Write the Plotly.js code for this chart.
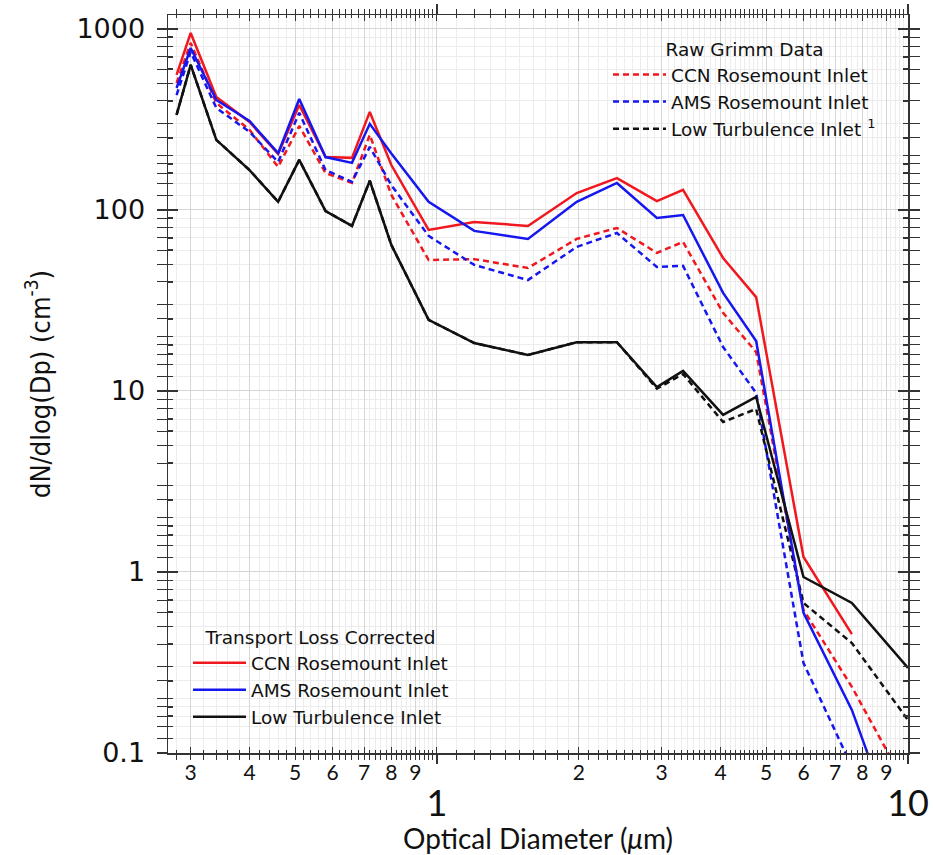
<!DOCTYPE html>
<html>
<head>
<meta charset="utf-8">
<script src="https://cdn.plot.ly/plotly-3.0.1.min.js"></script>
<style>
html,body{margin:0;padding:0;background:#fff;}
#chart{width:934px;height:855px;}
</style>
</head>
<body>
<div id="chart"></div>
<script>
// Optical diameter (um)
const diameter = [0.28, 0.30, 0.34, 0.40, 0.46, 0.51, 0.58, 0.66, 0.72, 0.80, 0.96, 1.2, 1.56, 1.98, 2.41, 2.93, 3.33, 4.05, 4.76, 6.0, 7.6, 10];

// Transport loss corrected (solid)
const ccnCorrected = [557, 950, 421, 306, 204, 380, 196, 194, 348, 177, 77.5, 85.9, 81.6, 124, 150, 112, 129, 54.3, 33.0, 1.21, 0.454, null];
const amsCorrected = [472, 785, 405, 310, 206, 410, 196, 182, 299, 205, 111, 76.6, 69.2, 111, 141, 90.3, 93.8, 34.8, 18.9, 0.594, 0.173, 0.024];
const ltiCorrected = [335, 633, 244, 166, 111, 189, 98.7, 81.6, 145, 64.1, 24.7, 18.4, 15.8, 18.6, 18.6, 10.5, 12.9, 7.37, 9.27, 0.938, 0.674, 0.295];

// Raw Grimm data (dashed)
const ccnRaw = [503, 837, 390, 277, 173, 291, 160, 141, 260, 121, 52.9, 53.5, 47.8, 69.2, 79.5, 57.9, 66.6, 27.0, 16.4, 0.617, 0.232, 0.063];
const amsRaw = [431, 746, 366, 270, 184, 344, 166, 143, 223, 137, 71.9, 49.7, 41.0, 62.5, 74.6, 48.4, 49.1, 17.5, 9.75, 0.314, 0.084, 0.020];
const ltiRaw = [335, 633, 244, 166, 111, 189, 98.7, 81.6, 145, 64.1, 24.7, 18.4, 15.8, 18.6, 18.6, 10.3, 12.4, 6.74, 7.95, 0.674, 0.405, 0.152];

// Names and tick labels
const seriesNames = ['CCN Rosemount Inlet', 'AMS Rosemount Inlet', 'Low Turbulence Inlet'];
const rawLastName = 'Low Turbulence Inlet <sup>1</sup>';
const xDigitVals = [0.3, 0.4, 0.5, 0.6, 0.7, 0.8, 0.9, 2, 3, 4, 5, 6, 7, 8, 9];
const xDigitText = ['3', '4', '5', '6', '7', '8', '9', '2', '3', '4', '5', '6', '7', '8', '9'];
const xMajorVals = [1, 10];
const xMajorText = ['1', '10'];
const yTickVals = [0.1, 1, 10, 100, 1000];
const yTickText = ['0.1', '1', '10', '100', '1000'];

// minor tick / grid positions (axis decoration only)
function r(v){ return Math.round(v * 1000) / 1000; }
const xMinor = [];
for (let i = 13; i < 50; i++) { const v = r(i * 0.02); if (Math.abs(v * 10 - Math.round(v * 10)) > 1e-6) xMinor.push(v); }
for (let i = 11; i < 50; i++) { const v = r(i * 0.1); if (Math.abs(v - Math.round(v)) > 1e-6) xMinor.push(v); }
for (let i = 26; i < 50; i++) { const v = r(i * 0.2); if (Math.abs(v - Math.round(v)) > 1e-6) xMinor.push(v); }
const yMult = [1.2, 1.4, 1.6, 1.8, 2, 2.5, 3, 4, 5, 6, 7, 8, 9];
const yMinor = [];
[0.1, 1, 10, 100, 1000].forEach(d => yMult.forEach(m => { const v = r(d * m * 1000) / 1000; if (v < 1200) yMinor.push(v); }));

const RED = 'rgb(240,24,30)';
const BLUE = 'rgb(22,22,238)';
const BLACK = 'rgb(17,17,17)';
const colors = [RED, BLUE, BLACK];
const DASH = '6px,4px';

const rawSets = [ccnRaw, amsRaw, ltiRaw];
const corrSets = [ccnCorrected, amsCorrected, ltiCorrected];

const traces = [];
rawSets.forEach((ys, i) => {
  traces.push({
    x: diameter, y: ys, type: 'scatter', mode: 'lines',
    name: i === 2 ? rawLastName : seriesNames[i],
    line: {color: colors[i], width: 2.5, dash: DASH},
    legend: 'legend', connectgaps: false, hoverinfo: 'x+y'
  });
});
corrSets.forEach((ys, i) => {
  traces.push({
    x: diameter, y: ys, type: 'scatter', mode: 'lines',
    name: seriesNames[i],
    line: {color: colors[i], width: 2.5},
    legend: 'legend2', connectgaps: false, hoverinfo: 'x+y'
  });
});
// invisible carriers so the overlay axes (big decade labels, inner ticks) are drawn
[['x2', 'y'], ['x3', 'y'], ['x', 'y3']].forEach(p => {
  traces.push({
    x: diameter, y: ltiCorrected, xaxis: p[0], yaxis: p[1], type: 'scatter', mode: 'lines',
    line: {width: 0, color: 'rgba(0,0,0,0)'}, showlegend: false, hoverinfo: 'skip'
  });
});

const xRange = [Math.log10(0.2685), 1];
const yRange = [-1, 3.077];
const AX = '#333';
const GRID = '#d6d6d6';
const GRID2 = '#ececec';
const SANS = 'Lato, "Open Sans", sans-serif';
const LEG = '"DejaVu Sans", sans-serif';

const layout = {
  width: 934, height: 855,
  margin: {l: 168, r: 26, t: 15, b: 102},
  paper_bgcolor: '#fff', plot_bgcolor: '#fff',
  showlegend: true,
  font: {family: SANS, color: '#111'},
  xaxis: {
    type: 'log', range: xRange, tickmode: 'array',
    tickvals: xDigitVals, ticktext: xDigitText,
    tickfont: {family: SANS, size: 21, color: '#111'},
    ticks: 'outside', ticklen: 5, tickwidth: 1, tickcolor: AX, ticklabelstandoff: -5,
    showline: true, linecolor: AX, linewidth: 1.5, mirror: 'allticks',
    showgrid: true, gridcolor: GRID, gridwidth: 1, zeroline: false,
    minor: {tickmode: 'array', tickvals: xMinor, ticks: 'outside', ticklen: 3, tickcolor: AX, tickwidth: 1, showgrid: true, gridcolor: GRID2, gridwidth: 1},
    title: {text: 'Optical Diameter (<i>μ</i>m)', font: {family: SANS, size: 28, color: '#111'}, standoff: 46}
  },
  xaxis2: {
    type: 'log', range: xRange, overlaying: 'x', anchor: 'y', side: 'bottom',
    tickmode: 'array', tickvals: xMajorVals, ticktext: xMajorText,
    tickfont: {family: SANS, size: 36, color: '#111'},
    ticks: 'outside', ticklen: 10, tickwidth: 1.5, tickcolor: AX,
    ticklabelstandoff: 9,
    showline: false, mirror: 'ticks', showgrid: true, gridcolor: GRID, zeroline: false
  },
  xaxis3: {
    type: 'log', range: xRange, overlaying: 'x', anchor: 'y', side: 'bottom',
    tickmode: 'array', tickvals: xMajorVals.concat(xDigitVals), showticklabels: false,
    ticks: 'inside', ticklen: 6, tickwidth: 1, tickcolor: AX,
    showline: false, mirror: 'ticks', showgrid: false, zeroline: false,
    minor: {tickmode: 'array', tickvals: xMinor, ticks: 'inside', ticklen: 3, tickcolor: AX, showgrid: false}
  },
  yaxis: {
    type: 'log', range: yRange, tickmode: 'array',
    tickvals: yTickVals, ticktext: yTickText,
    tickfont: {family: '"DejaVu Sans", sans-serif', size: 27, color: '#111'},
    ticks: 'outside', ticklen: 10, tickwidth: 1.5, tickcolor: AX, ticklabelstandoff: 6,
    showline: true, linecolor: AX, linewidth: 1.5, mirror: 'allticks',
    showgrid: true, gridcolor: GRID, gridwidth: 1, zeroline: false,
    minor: {tickmode: 'array', tickvals: yMinor, ticks: 'outside', ticklen: 5, tickcolor: AX, tickwidth: 1, showgrid: true, gridcolor: GRID2, gridwidth: 1},
    title: {text: 'dN/dlog(Dp) (cm<sup>-3</sup>)', font: {family: '"Liberation Sans Narrow", "DejaVu Sans Condensed", Roboto, sans-serif', size: 27, color: '#111'}, standoff: 18}
  },
  yaxis3: {
    type: 'log', range: yRange, overlaying: 'y', anchor: 'x', side: 'left',
    tickmode: 'array', tickvals: yTickVals, showticklabels: false,
    ticks: 'inside', ticklen: 10, tickwidth: 1.5, tickcolor: AX,
    showline: false, mirror: 'ticks', showgrid: false, zeroline: false,
    minor: {tickmode: 'array', tickvals: yMinor, ticks: 'inside', ticklen: 5, tickcolor: AX, showgrid: false}
  },
  legend: {
    x: 0.5946, y: 0.977, xanchor: 'left', yanchor: 'top',
    bgcolor: 'rgba(0,0,0,0)', borderwidth: 0, itemwidth: 53,
    font: {family: LEG, size: 18.5, color: '#111'},
    title: {text: 'Raw Grimm Data', side: 'top center', font: {family: LEG, size: 18.5, color: '#111'}},
    tracegroupgap: 0
  },
  legend2: {
    x: 0.027, y: 0.18, xanchor: 'left', yanchor: 'top',
    bgcolor: 'rgba(0,0,0,0)', borderwidth: 0, itemwidth: 53,
    font: {family: LEG, size: 18.5, color: '#111'},
    title: {text: 'Transport Loss Corrected', side: 'top center', font: {family: LEG, size: 18.5, color: '#111'}},
    tracegroupgap: 0
  }
};

Plotly.newPlot('chart', traces, layout, {displayModeBar: false, staticPlot: true});
</script>
</body>
</html>
